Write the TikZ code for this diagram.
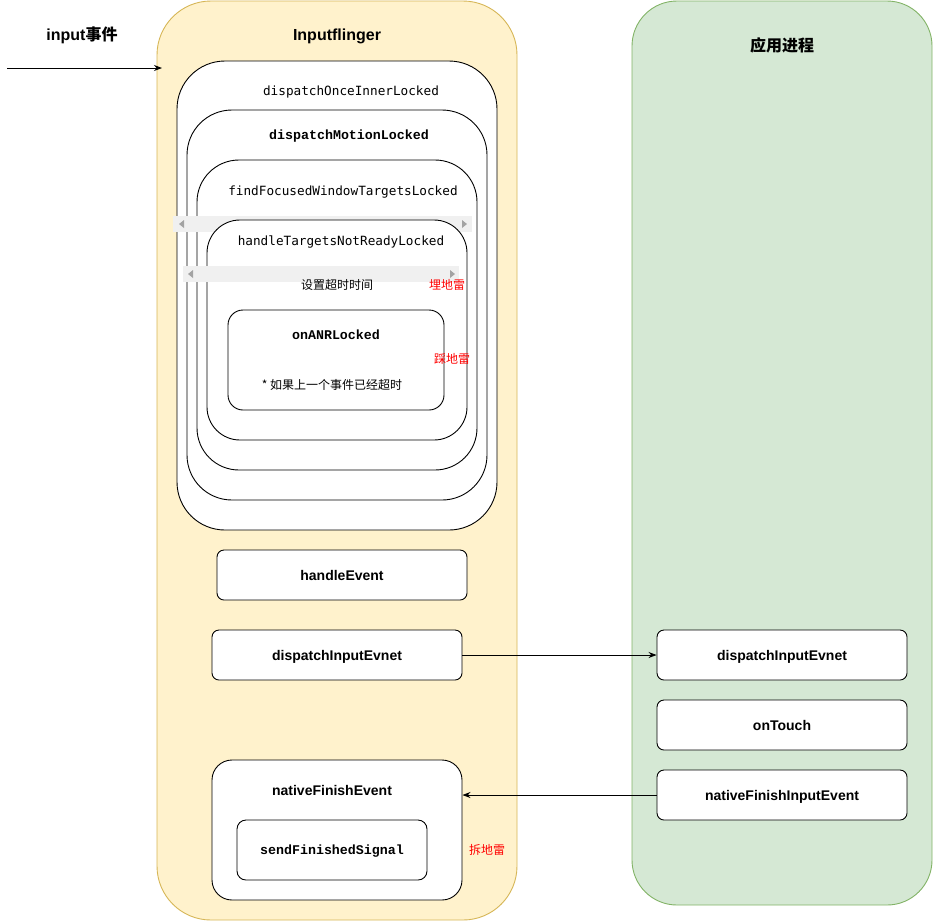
\documentclass[tikz,border=0pt]{standalone}
\usepackage{fontspec}
\setmainfont{Liberation Sans}
\newfontfamily\cjk{Noto Sans CJK SC}
\newfontfamily\consmono{DejaVu Sans Mono}
\newfontfamily\courmono{Liberation Mono}
\usetikzlibrary{arrows.meta}
\definecolor{laneyellow}{HTML}{FFF2CC}
\definecolor{laneyellowline}{HTML}{D6B656}
\definecolor{lanegreen}{HTML}{D5E8D4}
\definecolor{lanegreenline}{HTML}{82B366}
\definecolor{barfill}{HTML}{F0F0F0}
\definecolor{bararrow}{HTML}{A3A3A3}
\tikzset{
  lane/.style={rectangle, line width=0.9pt, inner sep=0pt},
  fnbox/.style={rectangle, draw=black, fill=white, line width=0.9pt, inner sep=0pt},
  fnlabel/.style={font=\bfseries\fontsize{14}{16}\selectfont, inner sep=0pt, text depth=0pt},
  monolabel/.style={font=\consmono\fontsize{12.7}{15}\selectfont, inner sep=0pt, text depth=0pt},
  monobold/.style={font=\courmono\bfseries\fontsize{13.3}{15}\selectfont, inner sep=0pt, text depth=0pt},
  cjknote/.style={font=\cjk\fontsize{12}{14}\selectfont, inner sep=0pt},
  mine/.style={font=\cjk\fontsize{12}{14}\selectfont, text=red, inner sep=0pt},
  title/.style={font=\bfseries\fontsize{16}{18}\selectfont, inner sep=0pt},
  arr/.style={-{Stealth[length=8pt,width=6pt]}, line width=0.9pt},
  scrollbar/.style={fill=barfill, draw=none},
  bartip/.style={fill=bararrow, draw=none},
}
\begin{document}
\begin{tikzpicture}[x=1pt,y=-1pt]
\useasboundingbox (0,0) rectangle (933,922);

% swimlanes
\node[lane, draw=laneyellowline, fill=laneyellow, rounded corners=54pt,
      minimum width=360pt, minimum height=919pt] (flinger) at (337,460.5) {};
\node[lane, draw=lanegreenline, fill=lanegreen, rounded corners=45pt,
      minimum width=300pt, minimum height=904pt] (app) at (782,453) {};
\node[title] (flingertitle) at (337,36) {Inputflinger};
\node[title] (apptitle) at (782,45) {\cjk 应用进程};

% incoming event
\node[title] (inputlabel) at (82,35) {input{\cjk 事件}};
\coordinate (evsrc) at (7,68);
\coordinate (evdst) at (162,68);
\draw[arr] (evsrc) -- (evdst);

% nested dispatch call chain
\node[fnbox, rounded corners=48pt, minimum width=320pt, minimum height=469pt] (once) at (337,295.5) {};
\node[fnbox, rounded corners=45pt, minimum width=300pt, minimum height=390pt] (motion) at (337,305) {};
\node[fnbox, rounded corners=42pt, minimum width=280pt, minimum height=310pt] (focused) at (337,315) {};

% horizontal scroll strip over the call chain
\fill[scrollbar] (173,216) rectangle (472,232);
\fill[bartip] (179,224) -- (184,220) -- (184,228) -- cycle;
\fill[bartip] (467,224) -- (462,220) -- (462,228) -- cycle;

\node[fnbox, rounded corners=33pt, minimum width=260pt, minimum height=220pt] (notready) at (337,330) {};

\fill[scrollbar] (183,266) rectangle (459,282);
\fill[bartip] (188,274) -- (193,270) -- (193,278) -- cycle;
\fill[bartip] (455,274) -- (450,270) -- (450,278) -- cycle;

\node[fnbox, rounded corners=15pt, minimum width=216pt, minimum height=100pt] (anr) at (336,360) {};

\node[monolabel] (oncelabel) at (351,91) {dispatchOnceInnerLocked};
\node[monobold] (motionlabel) at (349,135) {dispatchMotionLocked};
\node[monolabel] (focusedlabel) at (343,191) {findFocusedWindowTargetsLocked};
\node[monolabel] (notreadylabel) at (341,241) {handleTargetsNotReadyLocked};
\node[cjknote] (timeout) at (337,284.5) {设置超时时间};
\node[mine] (plant) at (447,284.5) {埋地雷};
\node[monobold] (anrlabel) at (336,335) {onANRLocked};
\node[cjknote] (anrnote) at (332,384.5) {* 如果上一个事件已经超时};
\node[mine] (trigger) at (452,358.5) {踩地雷};

% flinger side steps
\node[fnbox, rounded corners=7pt, minimum width=250pt, minimum height=50pt, fnlabel] (handle) at (342,575) {handleEvent};
\node[fnbox, rounded corners=7pt, minimum width=250pt, minimum height=50pt, fnlabel] (dispL) at (337,655) {dispatchInputEvnet};
\node[fnbox, rounded corners=20pt, minimum width=250pt, minimum height=140pt] (finishL) at (337,830) {};
\node[fnlabel] (finishLlabel) at (332,790) {nativeFinishEvent};
\node[fnbox, rounded corners=9pt, minimum width=190pt, minimum height=60pt, monobold] (signal) at (332,850) {sendFinishedSignal};
\node[mine] (defuse) at (487,849.5) {拆地雷};

% application side steps
\node[fnbox, rounded corners=7pt, minimum width=250pt, minimum height=50pt, fnlabel] (dispR) at (782,655) {dispatchInputEvnet};
\node[fnbox, rounded corners=7pt, minimum width=250pt, minimum height=50pt, fnlabel] (touch) at (782,725) {onTouch};
\node[fnbox, rounded corners=7pt, minimum width=250pt, minimum height=50pt, fnlabel] (finishR) at (782,795) {nativeFinishInputEvent};

% cross-process messages
\draw[arr] (dispL.east) -- (dispR.west);
\draw[arr] (finishR.west) -- (finishR.west -| finishL.east);
\end{tikzpicture}
\end{document}
